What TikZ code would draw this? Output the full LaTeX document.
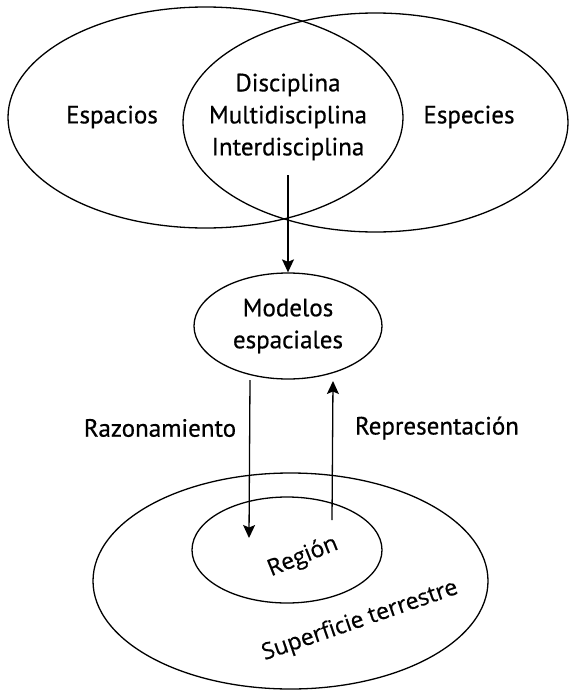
\documentclass[tikz,border=0pt]{standalone}
\usepackage{fontspec}
\setmainfont{PT Sans}[FakeBold=0.6]
\newfontfamily\osans{Open Sans}[FakeBold=0.5]
\usetikzlibrary{shapes.geometric,arrows.meta,calc}
\begin{document}
\begin{tikzpicture}[x=1pt,y=-1pt,
  every node/.style={inner sep=0pt},
  ell/.style={draw, ellipse, line width=1.3pt},
  txt/.style={font=\fontsize{25}{32}\selectfont, align=center},
  rtxt/.style={font=\osans\fontsize{23}{26}\selectfont},
  arr/.style={-{Stealth[length=13pt,width=12pt,inset=2.5pt]}, line width=1.3pt}]
\useasboundingbox (0,0) rectangle (570,691);
% top Venn
\node[ell, minimum width=395pt, minimum height=221pt] (espacios) at (205.5,117.5) {};
\node[ell, minimum width=385pt, minimum height=219pt] (especies) at (375.5,122.5) {};
\node[txt] (tespacios) at (112,117) {Espacios};
\node[txt] (tespecies) at (469,117) {Especies};
\node[txt] (disc) at (288,117) {Disciplina\\Multidisciplina\\Interdisciplina};
% models
\node[ell, txt, minimum width=188pt, minimum height=106pt] (modelos) at (288,326) {Modelos\\espaciales};
\coordinate (a0) at (288,175);
\draw[arr] (a0) -- (modelos.north);
% bottom
\node[ell, minimum width=395pt, minimum height=216pt] (superficie) at (290.5,581) {};
\node[ell, minimum width=190pt, minimum height=106pt] (region) at (287,550) {};
\node[rtxt, rotate=22] (tregion) at (303,557) {Región};
\node[rtxt, rotate=19] (tsuperficie) at (360,621) {Superficie terrestre};
% arrows between
\coordinate (r0) at ($(modelos.center)+(-38,54)$);
\coordinate (r1) at ($(region.center)+(-38,-12)$);
\coordinate (u0) at ($(region.center)+(45,-30)$);
\coordinate (u1) at ($(modelos.center)+(45,55)$);
\draw[arr] (r0) -- (r1);
\draw[arr] (u0) -- (u1);
\node[txt] (razon) at (160,428) {Razonamiento};
\node[txt] (repre) at (437,428) {Representación};
\end{tikzpicture}
\end{document}
